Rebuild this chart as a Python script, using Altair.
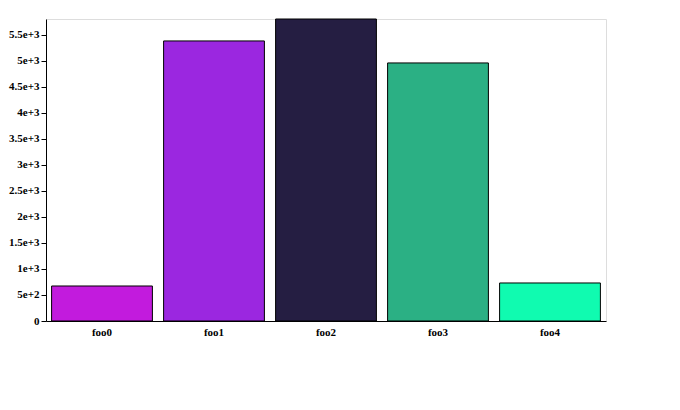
import altair as alt
import pandas as pd

categories = ["foo0", "foo1", "foo2", "foo3", "foo4"]
values = [673, 5385, 5807, 4962, 731]
colors = ["#c21bdd", "#9b27e0", "#251e42", "#2bb084", "#10fbb0"]

df = pd.DataFrame({"cat": categories, "val": values})

chart = (
    alt.Chart(df)
    .mark_bar(stroke="black", strokeWidth=1)
    .encode(
        x=alt.X("cat:N", title=None, sort=categories,
                scale=alt.Scale(paddingInner=0.1, paddingOuter=0.05),
                axis=alt.Axis(labelAngle=0, ticks=False, domainColor="black",
                              labelColor="black", labelFontSize=11, labelFontWeight="bold",
                              labelFont="Liberation Sans Narrow", labelPadding=5)),
        y=alt.Y("val:Q", title=None,
                scale=alt.Scale(domain=[0, 5807], nice=False),
                axis=alt.Axis(values=list(range(0, 5501, 500)), format=",", grid=False,
                              domainColor="black", tickColor="black", labelColor="black",
                              labelFontSize=11, labelFontWeight="bold",
                              labelFont="Liberation Sans Narrow")),
        color=alt.Color("cat:N", scale=alt.Scale(domain=categories, range=colors), legend=None),
    )
    .properties(width=560, height=302)
    .configure_view(stroke=None)
    .configure(padding={"left": 0, "top": 10, "right": 5, "bottom": 5})
)

chart.save("out.html", embed_options={"renderer": "svg", "actions": False})
